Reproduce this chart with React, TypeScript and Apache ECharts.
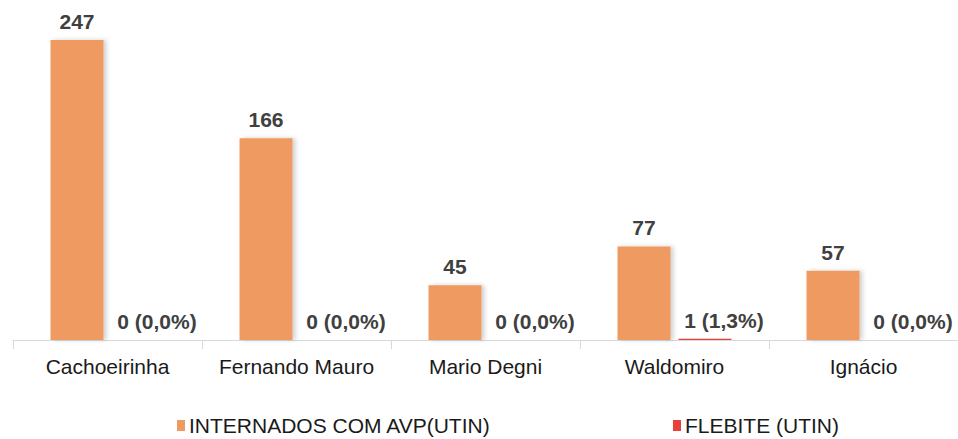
import React, { useEffect, useRef } from "react";
import * as echarts from "echarts";

const categories = ["Cachoeirinha", "Fernando Mauro", "Mario Degni", "Waldomiro", "Ignácio"];
const internados = [247, 166, 45, 77, 57];
const flebite = [0, 0, 0, 1, 0];
const seriesNames = ["INTERNADOS COM AVP(UTIN)", "FLEBITE (UTIN)"];

const FONT = "'Liberation Sans', Arial, sans-serif";

export default function App() {
  const ref = useRef<HTMLDivElement>(null);
  useEffect(() => {
    if (!ref.current) return;
    const chart = echarts.init(ref.current, null, { renderer: "svg" });
    chart.setOption({
      animation: false,
      backgroundColor: "#ffffff",
      textStyle: { fontFamily: FONT },
      grid: { left: 13, right: -5, top: 24.2, bottom: 99, containLabel: false },
      legend: [
        {
          data: [seriesNames[0]],
          left: 177,
          top: 415,
          padding: 0,
          itemWidth: 8,
          itemHeight: 11,
          itemGap: 4,
          icon: "rect",
          textStyle: { fontSize: 21, color: "#1a1a1a", fontFamily: FONT, padding: [0, 0, 0, -1] },
        },
        {
          data: [seriesNames[1]],
          left: 673,
          top: 415,
          padding: 0,
          itemWidth: 8,
          itemHeight: 11,
          icon: "rect",
          textStyle: { fontSize: 21, color: "#1a1a1a", fontFamily: FONT, padding: [0, 0, 0, -1] },
        },
      ],
      xAxis: {
        type: "category",
        data: categories,
        boundaryGap: true,
        axisLine: { show: true, lineStyle: { color: "#d9d9d9", width: 1 } },
        axisTick: { show: true, length: 9, interval: 0, lineStyle: { color: "#d9d9d9" } },
        axisLabel: { interval: 0, fontSize: 21, color: "#1a1a1a", margin: 16, fontFamily: FONT },
      },
      yAxis: {
        type: "value",
        min: 0,
        max: 260,
        show: false,
        splitLine: { show: false },
      },
      series: [
        {
          name: seriesNames[0],
          type: "bar",
          data: internados,
          barWidth: 53,
          barGap: "15%",
          itemStyle: {
            color: "#EE9A60",
            shadowColor: "rgba(0,0,0,0.18)",
            shadowBlur: 4,
            shadowOffsetX: 3,
          },
          label: {
            show: true,
            position: "top",
            distance: 8,
            fontSize: 21,
            fontWeight: "bold",
            color: "#404040",
            fontFamily: FONT,
          },
        },
        {
          name: seriesNames[1],
          type: "bar",
          data: flebite,
          barWidth: 53,
          itemStyle: { color: "#E8403A" },
          label: {
            show: true,
            position: "top",
            distance: 8,
            offset: [19, 0],
            fontSize: 21,
            fontWeight: "bold",
            color: "#404040",
            fontFamily: FONT,
            formatter: (p: any) => {
              const pct = ((flebite[p.dataIndex] / internados[p.dataIndex]) * 100).toFixed(1).replace(".", ",");
              return `${flebite[p.dataIndex]} (${pct}%)`;
            },
          },
        },
      ],
    });
    return () => chart.dispose();
  }, []);
  return <div ref={ref} style={{ position: "absolute", left: 0, top: 0, width: 958, height: 439 }} />;
}
